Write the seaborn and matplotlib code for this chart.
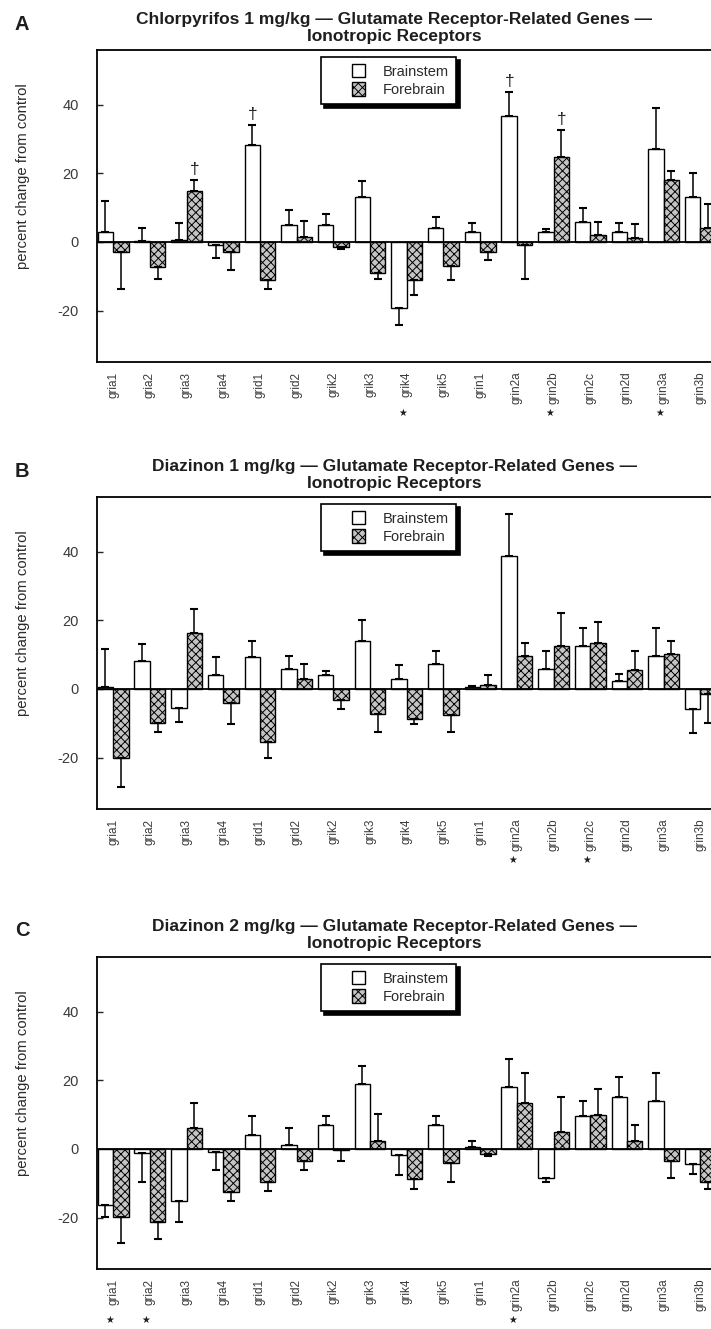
import numpy as np
import pandas as pd
import matplotlib
matplotlib.use("Agg")
import matplotlib.pyplot as plt
import matplotlib.patches as mpatches
from matplotlib.legend_handler import HandlerPatch
from matplotlib import transforms
import seaborn as sns

# ---------------------------------------------------------------- data
genes = ["gria1", "gria2", "gria3", "gria4", "grid1", "grid2", "grik2", "grik3",
         "grik4", "grik5", "grin1", "grin2a", "grin2b", "grin2c", "grin2d",
         "grin3a", "grin3b"]
regions = ["Brainstem", "Forebrain"]

# Chlorpyrifos 1 mg/kg (percent change from control, mean and SEM)
cpf1_brainstem = [3.0, 0.3, 0.5, -0.8, 28.3, 5.0, 5.0, 13.0, -19.2, 4.0, 2.9,
                  36.8, 2.9, 5.8, 2.9, 27.0, 13.2]
cpf1_brainstem_sem = [9.0, 3.8, 5.0, 4.0, 5.7, 4.3, 3.2, 4.9, 5.1, 3.2, 2.6,
                      6.9, 1.0, 4.2, 2.5, 12.0, 6.9]
cpf1_forebrain = [-3.0, -7.2, 15.0, -3.0, -11.0, 1.4, -1.4, -9.1, -11.0, -7.0,
                  -2.9, -1.0, 24.7, 1.9, 1.1, 18.0, 4.0]
cpf1_forebrain_sem = [10.8, 3.7, 3.0, 5.2, 2.8, 4.6, 0.5, 1.8, 4.4, 4.0, 2.4,
                      9.8, 7.9, 3.8, 4.2, 2.8, 7.0]
cpf1_daggers = [("gria3", "Forebrain"), ("grid1", "Brainstem"),
                ("grin2a", "Brainstem"), ("grin2b", "Forebrain")]
cpf1_stars = ["grik4", "grin2b", "grin3a"]

# Diazinon 1 mg/kg
dzn1_brainstem = [0.5, 8.2, -5.4, 4.2, 9.4, 5.9, 4.2, 13.9, 2.8, 7.2, 0.7,
                  38.7, 5.8, 12.6, 2.4, 9.6, -5.8]
dzn1_brainstem_sem = [11.3, 4.8, 4.3, 5.2, 4.6, 3.7, 1.0, 6.1, 4.3, 3.8, 0.3,
                      12.2, 5.3, 5.1, 1.9, 8.1, 7.0]
dzn1_forebrain = [-20.0, -9.9, 16.2, -4.2, -15.5, 3.0, -3.3, -7.4, -8.7, -7.6,
                  1.2, 9.6, 12.6, 13.5, 5.6, 10.2, -1.5]
dzn1_forebrain_sem = [8.6, 2.6, 7.0, 6.1, 4.7, 4.2, 2.6, 5.1, 1.6, 4.9, 3.0,
                      3.8, 9.7, 5.9, 5.6, 3.9, 8.5]
dzn1_daggers = []
dzn1_stars = ["grin2a", "grin2c"]

# Diazinon 2 mg/kg
dzn2_brainstem = [-16.3, -1.2, -15.1, -0.9, 4.2, 1.3, 7.1, 19.0, -1.7, 7.1, 0.7,
                  18.1, -8.6, 9.5, 15.1, 13.9, -4.4]
dzn2_brainstem_sem = [3.4, 8.3, 6.1, 5.1, 5.4, 4.7, 2.4, 5.2, 5.8, 2.4, 1.7,
                      8.1, 1.0, 4.4, 6.0, 8.4, 2.8]
dzn2_forebrain = [-19.7, -21.4, 6.0, -12.4, -9.5, -3.5, -0.3, 2.3, -8.7, -4.2,
                  -1.4, 13.4, 5.1, 10.0, 2.2, -3.4, -9.6]
dzn2_forebrain_sem = [7.8, 4.8, 7.5, 2.9, 2.7, 2.7, 3.2, 8.0, 3.0, 5.4, 0.6,
                      8.9, 10.0, 7.5, 4.7, 5.0, 2.0]
dzn2_daggers = []
dzn2_stars = ["gria1", "gria2", "grin2a"]

titles = [
    ("Chlorpyrifos 1 mg/kg \u2014 Glutamate Receptor-Related Genes \u2014",
     "Ionotropic Receptors"),
    ("Diazinon 1 mg/kg \u2014 Glutamate Receptor-Related Genes \u2014",
     "Ionotropic Receptors"),
    ("Diazinon 2 mg/kg \u2014 Glutamate Receptor-Related Genes \u2014",
     "Ionotropic Receptors"),
]
letters = ["A", "B", "C"]
y_ticks = [-20, 0, 20, 40]
y_label = "percent change from control"

# ---------------------------------------------------------------- style
sns.set_style("ticks")
plt.rcParams["font.family"] = ["Liberation Sans", "DejaVu Sans"]
plt.rcParams["axes.unicode_minus"] = False
plt.rcParams["hatch.linewidth"] = 0.7
plt.rcParams["hatch.color"] = "#262626"

W, H, DPI = 711, 1329, 100
fig = plt.figure(figsize=(W / DPI, H / DPI), dpi=DPI)

FILL = {"Brainstem": "white", "Forebrain": "#c4c4c4"}
HATCH = {"Brainstem": "", "Forebrain": "xxxx"}
TEXT = "#1e1e1e"
TICK_TEXT = "#3a3a3a"

AX_LEFT_PX = 97
CAT_PX = 36.7
XLIM = (-0.44, 17.5)
AX_H_PX = 312
YLIM = (-35, 56)
TITLE_X_PX = 394
panel_tops = [50, 497, 957]


def square_handle(legend, orig_handle, xdescent, ydescent, width, height, fontsize):
    side = 0.9 * fontsize
    return mpatches.Rectangle((width - xdescent - side, -ydescent + (height - side) / 2),
                              side, side)


def draw_panel(top_px, brain, brain_sem, fore, fore_sem, daggers, stars, title, letter):
    ax_w_px = (XLIM[1] - XLIM[0]) * CAT_PX
    ax = fig.add_axes([AX_LEFT_PX / W, 1 - (top_px + AX_H_PX) / H,
                       ax_w_px / W, AX_H_PX / H])

    df = pd.DataFrame({
        "gene": genes * 2,
        "region": [regions[0]] * len(genes) + [regions[1]] * len(genes),
        "value": list(brain) + list(fore),
    })
    sns.barplot(data=df, x="gene", y="value", hue="region", order=genes,
                hue_order=regions, palette=FILL, saturation=1, width=0.84,
                gap=0, errorbar=None, edgecolor="black", linewidth=1.0,
                legend=False, ax=ax, zorder=2)

    sems = {"Brainstem": brain_sem, "Forebrain": fore_sem}
    vals = {"Brainstem": brain, "Forebrain": fore}
    centers = {}
    for region, cont in zip(regions, ax.containers):
        xs = []
        for bar in cont:
            bar.set_hatch(HATCH[region])
            xs.append(bar.get_x() + bar.get_width() / 2)
        centers[region] = xs
        v = np.asarray(vals[region])
        s = np.asarray(sems[region])
        lower = np.where(v < 0, s, 0)
        upper = np.where(v >= 0, s, 0)
        ax.errorbar(xs, v, yerr=[lower, upper], fmt="none", ecolor="black",
                    elinewidth=1.1, capsize=3, capthick=1.5, zorder=3)

    # significance daggers above selected bars
    for gene, region in daggers:
        i = genes.index(gene)
        v = vals[region][i]
        tip = v + sems[region][i] if v >= 0 else v
        ax.text(centers[region][i], tip + 1.0, "\u2020", ha="center", va="bottom",
                fontsize=12.5, color=TEXT)

    # main-effect stars under gene labels
    trans = transforms.blended_transform_factory(ax.transData, ax.transAxes)
    for gene in stars:
        i = genes.index(gene)
        ax.text(i - 0.1, -0.163, "\u2605", transform=trans, ha="center",
                va="center", fontsize=7, family="DejaVu Sans", color=TEXT)

    ax.axhline(0, color="black", lw=1.3, zorder=4)
    ax.set_xlim(*XLIM)
    ax.set_ylim(*YLIM)
    ax.set_yticks(y_ticks)
    ax.set_xlabel("")
    ax.set_ylabel("")
    ax.tick_params(axis="y", direction="in", length=4, width=1, pad=13,
                   labelsize=10.5, labelcolor=TICK_TEXT)
    ax.tick_params(axis="x", length=0, pad=7, labelsize=8.5, labelrotation=90,
                   labelcolor=TICK_TEXT)
    for sp in ax.spines.values():
        sp.set_visible(True)
        sp.set_linewidth(1.3)
        sp.set_color("black")

    ax.text((23 - AX_LEFT_PX) / ax_w_px, 0.596, y_label, transform=ax.transAxes,
            rotation=90, ha="center", va="center", fontsize=10.7, color="#2a2a2a")

    # two-line title and panel letter
    fig.text(TITLE_X_PX / W, 1 - (top_px - 26) / H, title[0], ha="center",
             va="baseline", fontsize=12.5, fontweight="bold", color=TEXT)
    fig.text(TITLE_X_PX / W, 1 - (top_px - 9) / H, title[1], ha="center",
             va="baseline", fontsize=12.5, fontweight="bold", color=TEXT)
    fig.text(22 / W, 1 - (top_px - 26) / H, letter, ha="center", va="center",
             fontsize=14.5, fontweight="bold", color=TEXT)

    handles = [mpatches.Patch(facecolor=FILL[r], edgecolor="black", lw=1.0,
                              hatch=HATCH[r]) for r in regions]
    leg = ax.legend(handles, regions, loc="upper left",
                    bbox_to_anchor=((321 - AX_LEFT_PX) / ax_w_px, 1 - 7 / AX_H_PX),
                    borderaxespad=0, frameon=True, fancybox=False,
                    shadow={"color": "black", "alpha": 1, "ox": 2.5, "oy": -2.5},
                    fontsize=10.5, handlelength=2.55, handleheight=1.0,
                    handletextpad=1.2, labelspacing=0.25, borderpad=0.5,
                    handler_map={mpatches.Patch: HandlerPatch(patch_func=square_handle)})
    leg.get_frame().set_edgecolor("black")
    leg.get_frame().set_linewidth(1.2)
    leg.get_frame().set_alpha(1)
    for t in leg.get_texts():
        t.set_color("#2a2a2a")
    return ax


panels = [
    (cpf1_brainstem, cpf1_brainstem_sem, cpf1_forebrain, cpf1_forebrain_sem,
     cpf1_daggers, cpf1_stars),
    (dzn1_brainstem, dzn1_brainstem_sem, dzn1_forebrain, dzn1_forebrain_sem,
     dzn1_daggers, dzn1_stars),
    (dzn2_brainstem, dzn2_brainstem_sem, dzn2_forebrain, dzn2_forebrain_sem,
     dzn2_daggers, dzn2_stars),
]
for top, p, title, letter in zip(panel_tops, panels, titles, letters):
    draw_panel(top, *p, title, letter)

fig.savefig("out.png", dpi=DPI, facecolor="white")
